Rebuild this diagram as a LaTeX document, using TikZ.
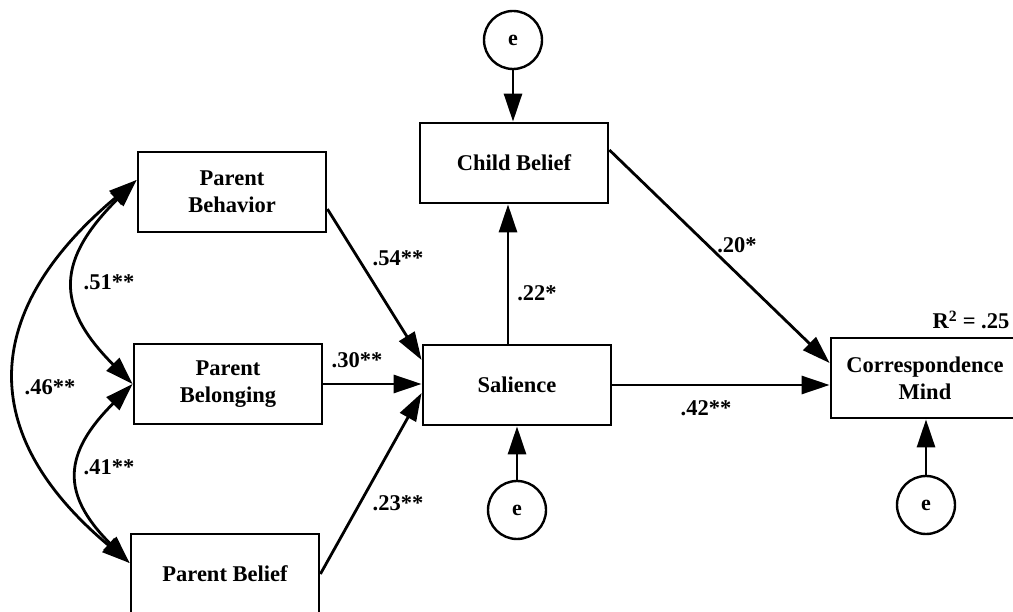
\documentclass[tikz,border=0pt]{standalone}
\usepackage{fontspec}
\setmainfont{Liberation Serif}
\usetikzlibrary{arrows.meta}

\begin{document}
\begin{tikzpicture}[x=1pt,y=1pt,
    box/.style={draw,line width=2.8pt,minimum width=188pt,minimum height=80pt,align=center,inner sep=0pt,font=\fontsize{22.5}{27}\selectfont\bfseries},
    err/.style={draw,circle,line width=2.4pt,minimum size=58pt,inner sep=0pt,font=\fontsize{22}{24}\selectfont\bfseries},
    lab/.style={font=\fontsize{22.5}{24}\selectfont\bfseries},
    arr/.style={line width=2.8pt,-{Triangle[length=28pt,width=18pt]}},
    cov/.style={line width=2.8pt,{Triangle[length=28pt,width=18pt]}-{Triangle[length=28pt,width=18pt]}}]
    \useasboundingbox (0,0) rectangle (1013,-612);
    \node[box] (behav) at (232,-192) {Parent\\Behavior};
    \node[box] (belong) at (228,-384) {Parent\\Belonging};
    \node[box] (pbelief) at (225,-574) {Parent Belief};
    \node[box] (sal) at (517,-385) {Salience};
    \node[box] (child) at (514,-163) {Child Belief};
    \node[box] (corr) at (925,-378) {Correspondence\\Mind};
    \node[err] (e1) at (513,-40) {e};
    \node[err] (e2) at (517,-510) {e};
    \node[err] (e3) at (926,-505) {e};
    \draw[arr] ([yshift=-17pt]behav.east) -- ([yshift=25pt]sal.west);
    \draw[arr] (belong.east) -- (belong.east -| sal.west);
    \draw[arr] (pbelief.east) -- ([yshift=-8pt]sal.west);
    \draw[arr] ([xshift=-9pt]sal.north) -- ([xshift=-9pt]sal.north |- child.south);
    \draw[arr] (e1.south) -- (e1.south |- child.north);
    \draw[arr] (e2.north) -- (e2.north |- sal.south);
    \draw[arr] (e3.north) -- (e3.north |- corr.south);
    \draw[arr] ([yshift=13pt]child.east) -- ([yshift=15pt]corr.west);
    \draw[arr] (sal.east) -- (sal.east -| corr.west);
    \draw[cov] ([yshift=12pt]behav.west) to[out=225,in=135,looseness=1.4] (belong.west);
    \draw[cov] (belong.west) to[out=225,in=135,looseness=1.4] ([yshift=11pt]pbelief.west);
    \draw[cov] ([yshift=12pt]behav.west) to[out=220,in=140,looseness=1.35] ([yshift=11pt]pbelief.west);
    \node[lab] (l54) at (398,-258) {.54**};
    \node[lab] (l30) at (357,-360) {.30**};
    \node[lab] (l23) at (398,-503) {.23**};
    \node[lab] (l51) at (109,-282) {.51**};
    \node[lab] (l41) at (109,-467) {.41**};
    \node[lab] (l46) at (50,-387) {.46**};
    \node[lab] (l22) at (537,-293) {.22*};
    \node[lab] (l20) at (737,-245) {.20*};
    \node[lab] (l42) at (706,-408) {.42**};
    \node[lab,anchor=west] (r2) at (929,-320) {R\textsuperscript{2} = .25};
\end{tikzpicture}
\end{document}
